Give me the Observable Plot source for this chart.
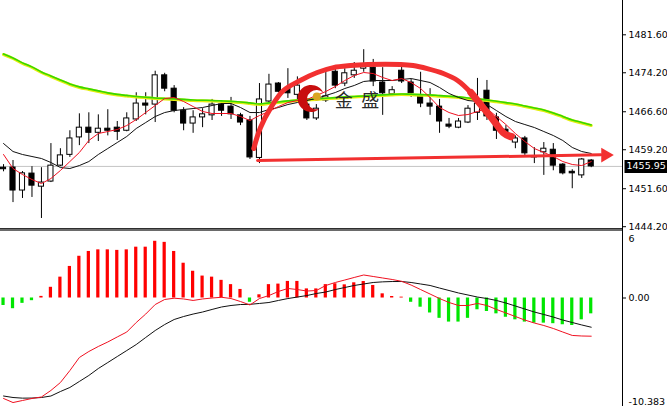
<!DOCTYPE html>
<html><head><meta charset="utf-8">
<script src="https://cdn.jsdelivr.net/npm/d3@7"></script>
<script src="https://cdn.jsdelivr.net/npm/@observablehq/plot@0.6"></script>
<style>
html,body{margin:0;padding:0;background:#fff;overflow:hidden;}
#wrap{position:relative;width:667px;height:406px;overflow:hidden;background:#fff;}
#top,#bot{position:absolute;left:0;}
#top{top:0;z-index:2;}
#bot{top:231px;z-index:1;}
#sep{position:absolute;left:0;top:228px;width:622px;height:1px;background:#2e2e2e;border-bottom:2px solid #6a6a6a;z-index:3;}
#axisline{position:absolute;left:622px;top:0;width:1px;height:406px;background:#000;z-index:3;}
</style></head>
<body>
<div id="wrap"><div id="top"></div><div id="sep"></div><div id="bot"></div><div id="axisline"></div></div>
<script>
// ---- candles (OHLC) ----
const open  = [1455.7,1455.73,1451.25,1454.55,1452.0,1453.0,1456.1,1458.2,1461.6,1463.5,1462.5,1463.3,1463.5,1462.9,1465.1,1468.2,1468.0,1473.7,1471.1,1466.8,1464.3,1465.5,1465.9,1468.0,1467.6,1465.9,1464.9,1457.6,1468.6,1472.1,1471.1,1469.9,1468.0,1465.3,1468.8,1474.4,1472.1,1473.7,1475.0,1475.2,1472.3,1470.0,1474.6,1472.3,1469.6,1468.2,1467.6,1464.1,1463.5,1464.5,1466.4,1470.7,1465.5,1463.1,1460.6,1461.4,1457.9,1458.7,1459.2,1456.3,1454.9,1454.2,1457.1];
const high  = [1456.3,1457.1,1454.95,1455.9,1455.7,1460.4,1459.4,1462.9,1466.2,1466.4,1466.0,1467.0,1464.7,1466.4,1470.3,1470.3,1474.5,1474.1,1471.7,1467.4,1466.8,1467.2,1469.0,1468.4,1469.4,1466.3,1465.7,1472.1,1473.9,1472.3,1475.0,1473.4,1469.2,1468.0,1475.0,1475.2,1475.0,1476.2,1478.7,1476.8,1475.2,1471.5,1475.6,1472.9,1474.3,1471.1,1469.0,1465.3,1465.3,1467.8,1473.1,1472.7,1466.3,1463.9,1461.9,1461.8,1459.6,1460.6,1460.4,1456.5,1455.3,1457.5,1457.3];
const low   = [1454.9,1448.9,1449.7,1449.9,1445.8,1452.8,1455.9,1457.7,1460.0,1460.4,1460.8,1461.9,1461.0,1462.7,1464.7,1466.0,1464.5,1470.5,1466.4,1462.9,1462.4,1463.5,1464.9,1465.7,1465.1,1463.9,1457.3,1456.5,1468.2,1470.3,1469.2,1468.8,1464.9,1464.9,1468.4,1471.1,1471.5,1473.1,1474.3,1471.5,1465.9,1469.8,1472.1,1469.4,1467.4,1465.9,1462.4,1463.3,1463.3,1464.3,1464.9,1464.9,1461.2,1461.6,1459.4,1458.1,1456.5,1454.2,1455.1,1454.3,1451.6,1453.6,1455.7];
const close = [1455.4,1451.25,1454.6,1452.2,1452.8,1456.1,1458.1,1461.4,1463.5,1462.5,1463.3,1462.9,1462.7,1465.3,1468.2,1467.8,1473.7,1471.1,1466.8,1464.3,1465.5,1466.1,1468.0,1466.8,1466.1,1464.5,1457.7,1469.0,1471.9,1470.5,1470.2,1471.7,1465.3,1467.2,1469.6,1471.7,1474.1,1474.6,1475.8,1472.5,1470.2,1470.8,1472.5,1470.2,1468.2,1467.6,1464.7,1463.7,1464.7,1467.2,1468.2,1465.7,1462.9,1461.9,1461.4,1458.5,1457.7,1459.4,1456.1,1454.6,1454.6,1457.3,1455.95];

// ---- moving averages ----
const maFast = [1458.27,1455.54,1454.37,1453.39,1452.61,1453.59,1455.15,1456.90,1458.66,1461.00,1462.36,1462.75,1463.14,1463.92,1465.09,1466.45,1467.82,1469.18,1469.38,1468.60,1467.62,1466.65,1466.26,1466.26,1466.26,1465.67,1464.89,1465.87,1466.65,1467.62,1468.40,1468.79,1468.99,1469.77,1470.55,1471.52,1472.69,1473.67,1474.25,1474.05,1473.28,1472.69,1473.08,1472.30,1471.13,1469.38,1467.43,1466.45,1465.87,1466.06,1466.65,1467.23,1465.67,1464.11,1462.36,1460.80,1459.44,1458.66,1457.88,1456.90,1456.32,1456.12,1456.90];
const maMid  = [1460.41,1458.85,1458.27,1457.88,1457.49,1456.71,1455.73,1455.54,1456.12,1456.90,1458.27,1459.44,1460.61,1461.78,1463.34,1464.50,1465.67,1466.45,1466.84,1467.04,1467.23,1467.43,1467.82,1468.21,1468.21,1467.43,1466.45,1466.45,1467.04,1467.43,1468.01,1468.40,1468.79,1469.18,1469.77,1470.35,1471.13,1471.72,1472.50,1472.69,1472.69,1472.69,1472.89,1473.08,1472.69,1472.30,1471.33,1470.16,1469.38,1468.79,1468.60,1468.01,1466.84,1465.67,1464.70,1464.11,1463.53,1462.75,1461.97,1461.00,1459.64,1458.85,1458.47];
const maSlow = [1477.76,1476.98,1476.01,1475.23,1474.25,1473.47,1472.69,1471.91,1471.33,1470.94,1470.55,1470.16,1469.87,1469.67,1469.47,1469.32,1469.18,1469.09,1468.99,1468.89,1468.79,1468.73,1468.69,1468.60,1468.50,1468.40,1468.21,1468.01,1468.21,1468.40,1468.60,1468.79,1468.89,1468.99,1469.12,1469.24,1469.38,1469.47,1469.57,1469.67,1469.77,1469.87,1469.96,1469.90,1469.83,1469.77,1469.63,1469.51,1469.38,1469.18,1468.99,1468.79,1468.54,1468.27,1468.01,1467.62,1467.23,1466.84,1466.26,1465.58,1464.89,1464.41,1463.92];

// ---- MACD panel ----
const histogram = [-0.7,-1.0,-0.5,-0.25,0.15,1.0,1.95,2.95,3.9,4.35,4.5,4.5,4.45,4.5,4.75,4.75,5.3,5.2,4.35,3.25,2.5,2.05,1.95,1.65,1.25,0.8,-0.4,0.3,1.25,1.3,1.55,1.55,0.85,0.85,1.25,1.33,1.23,1.42,1.54,1.17,0.39,0.14,0.08,-0.4,-0.86,-1.4,-1.9,-2.25,-2.25,-1.9,-1.1,-1.26,-1.48,-1.8,-2.04,-2.25,-2.35,-2.35,-2.4,-2.5,-2.57,-2.04,-1.48];
const macdBlack = [-9.16,-9.30,-9.36,-9.35,-9.30,-9.16,-8.74,-8.36,-7.80,-7.24,-6.59,-6.03,-5.47,-4.91,-4.35,-3.69,-3.04,-2.48,-2.01,-1.73,-1.50,-1.31,-1.07,-0.84,-0.70,-0.61,-0.59,-0.51,-0.42,-0.23,-0.05,0.09,0.23,0.42,0.56,0.79,0.98,1.17,1.31,1.45,1.51,1.54,1.54,1.45,1.31,1.17,0.93,0.70,0.47,0.28,0.09,-0.05,-0.23,-0.47,-0.75,-1.03,-1.31,-1.54,-1.78,-2.06,-2.29,-2.52,-2.73];
const macdRed = [-9.39,-9.77,-9.58,-9.39,-9.25,-8.64,-7.90,-6.78,-5.56,-5.00,-4.53,-4.11,-3.64,-3.18,-2.29,-1.50,-0.61,-0.14,-0.02,-0.09,-0.23,-0.09,0,0.07,-0.05,-0.33,-0.65,-0.05,0.23,0.61,0.89,0.79,0.65,0.70,1.17,1.45,1.68,1.92,2.15,2.01,1.87,1.73,1.56,1.21,0.79,0.37,-0.05,-0.42,-0.70,-0.70,-0.51,-0.70,-1.07,-1.40,-1.73,-2.06,-2.34,-2.57,-2.85,-3.18,-3.50,-3.55,-3.57];

// ---- axis ticks ----
const priceTicks = [1481.6,1474.2,1466.6,1459.2,1451.6,1444.2];
const macdTicks = [6, 0, -10.383];
const macdTickLabels = ["6","0.00","-10.383"];
const lastClose = close[close.length-1];

// ---- hand-drawn annotation (index, price) ----
const arcPoints = [[26.4,1459.44],[27.1,1463.5],[28.2,1467.4],[29.5,1470.7],[31.3,1472.7],[33.1,1474.25],[34.8,1475.2],[36.6,1475.6],[38.4,1475.8],[41.9,1475.8],[43.2,1475.6],[44.7,1475.0],[46.4,1474.05],[47.9,1472.7],[49.3,1470.35],[50.6,1467.4],[51.7,1464.9],[52.7,1462.55],[53.7,1461.95]];
const arcTail = [[49.3,1470.35],[50.6,1467.4],[51.7,1464.9],[52.7,1462.55],[53.5,1461.7]];
const arrowLine = [[26.8,1457.1],[63.0,1458.2]];
const arrowHead = [[63.5,1458.15]];
const logoMoon = [[32.45,1469.2]];
const logoBall = [[33.05,1469.57]];
const logoText = [{x:35.9, y:1468.7, t:"金"},{x:38.7, y:1468.7, t:"盛"}];

const xDomain = [-0.32, 65.3];
const candles = open.map((o,i)=>({i, o, h:high[i], l:low[i], c:close[i]}));

const crescent = {draw(ctx, size){
  const R = Math.sqrt(size/Math.PI), r = 0.72*R, d = 0.42*R;
  const x = (R*R - r*r + d*d)/(2*d), y = Math.sqrt(R*R - x*x);
  const a = Math.atan2(y, x), b = Math.atan2(y, x - d);
  ctx.moveTo(x, -y);
  ctx.arc(0,0,R,-a,a,true);
  ctx.arc(d,0,r,b,2*Math.PI-b,false);
  ctx.closePath();
}};
const priceBox = {draw(ctx){ ctx.rect(2,-6.5,46,13); }};

const axisFont = {fontFamily:"DejaVu Sans", fontSize:"9.5px"};

const upper = Plot.plot({
  width:667, height:228,
  marginLeft:0, marginRight:45, marginTop:34.3, marginBottom:1.8,
  x:{domain:xDomain, axis:null},
  y:{domain:[1444.2,1481.6], axis:null, label:null},
  style:{background:"transparent", overflow:"visible", ...axisFont, color:"#000"},
  marks:[
    Plot.ruleY([lastClose], {stroke:"#c4c4c4"}),
    Plot.ruleX(candles, {x:"i", y1:"l", y2:"h", stroke:"#000", strokeWidth:1}),
    Plot.rect(candles, {x1:d=>d.i-0.27, x2:d=>d.i+0.27, y1:"o", y2:"c", fill:d=>d.c>=d.o?"#fff":"#000", stroke:"#000", strokeWidth:1}),
    Plot.lineY(maSlow, {x:(d,i)=>i, y:d=>d, stroke:"#e4ee10", strokeWidth:3, curve:"monotone-x"}),
    Plot.lineY(maSlow, {x:(d,i)=>i, y:d=>d, stroke:"#36d800", strokeWidth:1.6, dy:-0.6, curve:"monotone-x"}),
    Plot.lineY(maMid, {x:(d,i)=>i, y:d=>d, stroke:"#111", strokeWidth:1}),
    Plot.lineY(maFast, {x:(d,i)=>i, y:d=>d, stroke:"#f01020", strokeWidth:1}),
    Plot.line(arrowLine, {x:d=>d[0], y:d=>d[1], stroke:"#f23030", strokeWidth:3}),
    Plot.dot(arrowHead, {x:d=>d[0], y:d=>d[1], symbol:"triangle", rotate:90, r:5.4, fill:"#f23030"}),
    Plot.line(arcPoints, {x:d=>d[0], y:d=>d[1], curve:"catmull-rom", stroke:"#f23030", strokeWidth:5, strokeLinecap:"round", strokeLinejoin:"round"}),
    Plot.line(arcTail, {x:d=>d[0], y:d=>d[1], curve:"catmull-rom", stroke:"#f23030", strokeWidth:7, strokeLinecap:"round"}),
    Plot.dot(logoMoon, {x:d=>d[0], y:d=>d[1], symbol:crescent, r:13.5, rotate:12, fill:"#c80e0e"}),
    Plot.dot(logoBall, {x:d=>d[0], y:d=>d[1], r:4, fill:"#d9a520"}),
    Plot.text(logoText, {x:"x", y:"y", text:"t", textAnchor:"middle", fontFamily:"Noto Sans CJK SC", fontSize:18, fill:"#2a2a2a"}),
    Plot.axisY(priceTicks, {anchor:"right", tickSize:3, tickPadding:3, tickFormat:d=>d.toFixed(2), label:null}),
    Plot.dot([lastClose], {x:()=>xDomain[1], y:d=>d, symbol:priceBox, fill:"#000", r:5}),
    Plot.text([lastClose], {x:()=>xDomain[1], y:d=>d, text:d=>d.toFixed(2), dx:4, textAnchor:"start", fill:"#fff"})
  ]
});
document.getElementById("top").appendChild(upper);

const hist = histogram.map((v,i)=>({i, v}));
const lower = Plot.plot({
  width:667, height:178,
  marginLeft:0, marginRight:45, marginTop:2.3, marginBottom:0.4,
  x:{domain:xDomain, axis:null},
  y:{domain:[-10.383,6], axis:null, label:null},
  style:{background:"transparent", overflow:"visible", ...axisFont, color:"#000"},
  marks:[
    Plot.rect(hist, {x1:d=>d.i-0.17, x2:d=>d.i+0.17, y1:0, y2:"v", fill:d=>d.v>=0?"#ff0000":"#00e600"}),
    Plot.lineY(macdBlack, {x:(d,i)=>i, y:d=>d, stroke:"#111", strokeWidth:1}),
    Plot.lineY(macdRed, {x:(d,i)=>i, y:d=>d, stroke:"#f01020", strokeWidth:1}),
    Plot.axisY([macdTicks[1]], {anchor:"right", tickSize:3, tickPadding:3, label:null, tickFormat:()=>macdTickLabels[1]}),
    Plot.axisY([macdTicks[0]], {anchor:"right", tickSize:0, tickPadding:6, dy:5.2, label:null, tickFormat:()=>macdTickLabels[0]}),
    Plot.axisY([macdTicks[2]], {anchor:"right", tickSize:0, tickPadding:6, dy:-7.5, label:null, tickFormat:()=>macdTickLabels[2]})
  ]
});
document.getElementById("bot").appendChild(lower);
</script>
</body></html>
